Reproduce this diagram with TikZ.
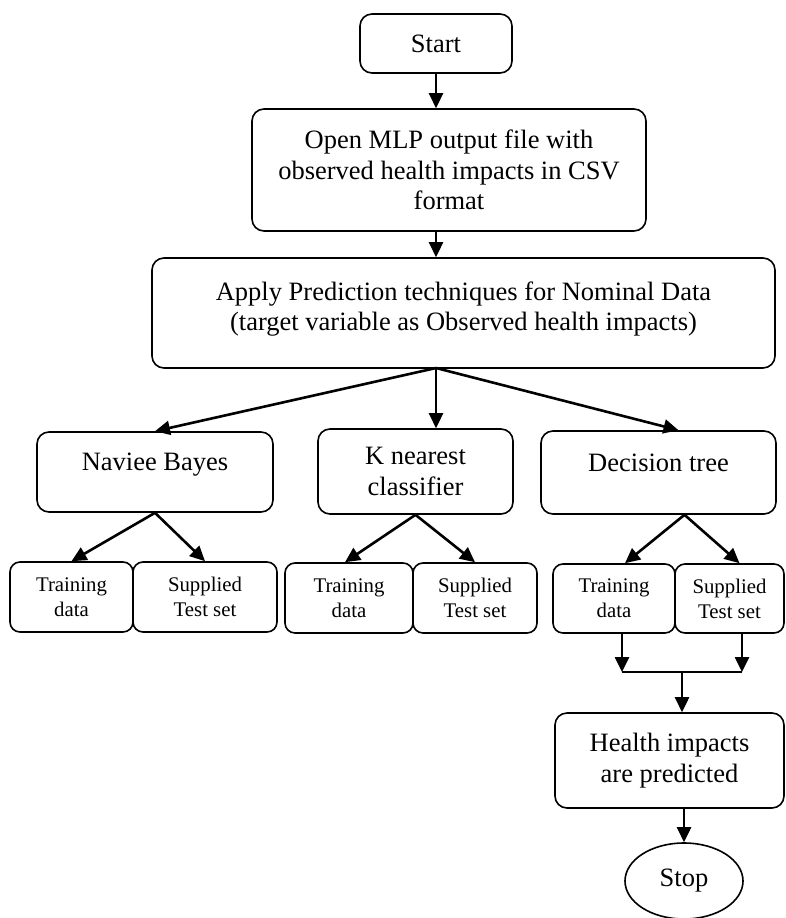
\documentclass[tikz,border=0pt]{standalone}
\usepackage{fontspec}
\setmainfont{Liberation Serif}
\usepackage{tikz}
\usetikzlibrary{shapes.geometric, arrows.meta}
\usetikzlibrary{calc}
\usetikzlibrary{positioning}

\begin{document}
\begin{tikzpicture}[x=1pt, y=-1pt,
        box/.style={rectangle, rounded corners=12pt, draw=black, line width=1.6pt,
          inner sep=0pt, align=center, font=\fontsize{26.5}{30.5}\selectfont},
        smallbox/.style={rectangle, rounded corners=10pt, draw=black, line width=1.6pt,
          inner sep=0pt, align=center, font=\fontsize{20.8}{25}\selectfont},
        flow/.style={line width=2.6pt, -{Triangle[length=15pt, width=14pt]}},
      ]
      \clip (0,0) rectangle (786,918);
      \node[box, minimum width=152pt, minimum height=59pt] (start) at (436,43.5) {Start};
      \node[box, minimum width=394pt, minimum height=122pt] (open) at (449,170)
        {Open MLP output file with\\observed health impacts in CSV\\format};
      \node[box, minimum width=623pt, minimum height=110pt, text depth=14pt] (apply) at (463.5,313)
        {Apply Prediction techniques for Nominal Data\\(target variable as Observed health impacts)};
      \node[box, minimum width=236pt, minimum height=80pt, text depth=20pt] (nb) at (155,472) {Naviee Bayes};
      \node[box, minimum width=195pt, minimum height=85pt] (knn) at (415.5,471.5) {K nearest\\classifier};
      \node[box, minimum width=235pt, minimum height=83pt, text depth=20pt] (dt) at (658.5,472.5) {Decision tree};
      \node[smallbox, minimum width=123pt, minimum height=70pt] (t1) at (71.5,597) {Training\\data};
      \node[smallbox, minimum width=144pt, minimum height=70pt] (s1) at (205,597) {Supplied\\Test set};
      \node[smallbox, minimum width=128pt, minimum height=70pt] (t2) at (349,598) {Training\\data};
      \node[smallbox, minimum width=124pt, minimum height=70pt] (s2) at (475,598) {Supplied\\Test set};
      \node[smallbox, minimum width=122pt, minimum height=69pt] (t3) at (614,598.5) {Training\\data};
      \node[smallbox, minimum width=109pt, minimum height=69pt] (s3) at (729.5,598.5) {Supplied\\Test set};
      \node[box, minimum width=229pt, minimum height=95pt] (health) at (669.5,760.5)
        {Health impacts\\are predicted};
      \node[ellipse, draw=black, line width=1.6pt, inner sep=0pt, minimum width=118pt,
        minimum height=76pt, font=\fontsize{26.5}{30.5}\selectfont] (stop) at (684,881) {Stop};
      \coordinate (fork) at (436,368);
      \coordinate (j1) at (622,672);
      \coordinate (j2) at (742,672);
      \coordinate (jm) at (682,672);
      \draw[flow] (start.south) -- (start.south |- open.north);
      \draw[flow] (start.south |- open.south) -- (start.south |- apply.north);
      \draw[flow] (fork) -- (nb.north);
      \draw[flow] (fork) -- (fork |- knn.north);
      \draw[flow] (fork) -- ([xshift=20pt]dt.north);
      \draw[flow] (nb.south) -- (t1.north);
      \draw[flow] (nb.south) -- (s1.north);
      \draw[flow] (knn.south) -- ([xshift=-4pt]t2.north);
      \draw[flow] (knn.south) -- (s2.north);
      \draw[flow] ([xshift=26pt]dt.south) -- ([xshift=11pt]t3.north);
      \draw[flow] ([xshift=26pt]dt.south) -- ([xshift=10pt]s3.north);
      \draw[flow] (j1 |- t3.south) -- (j1);
      \draw[flow] (j2 |- s3.south) -- (j2);
      \draw[line width=2.6pt] (j1) -- (j2);
      \draw[flow] (jm) -- (jm |- health.north);
      \draw[flow] (stop.north |- health.south) -- (stop.north);
\end{tikzpicture}
\end{document}
